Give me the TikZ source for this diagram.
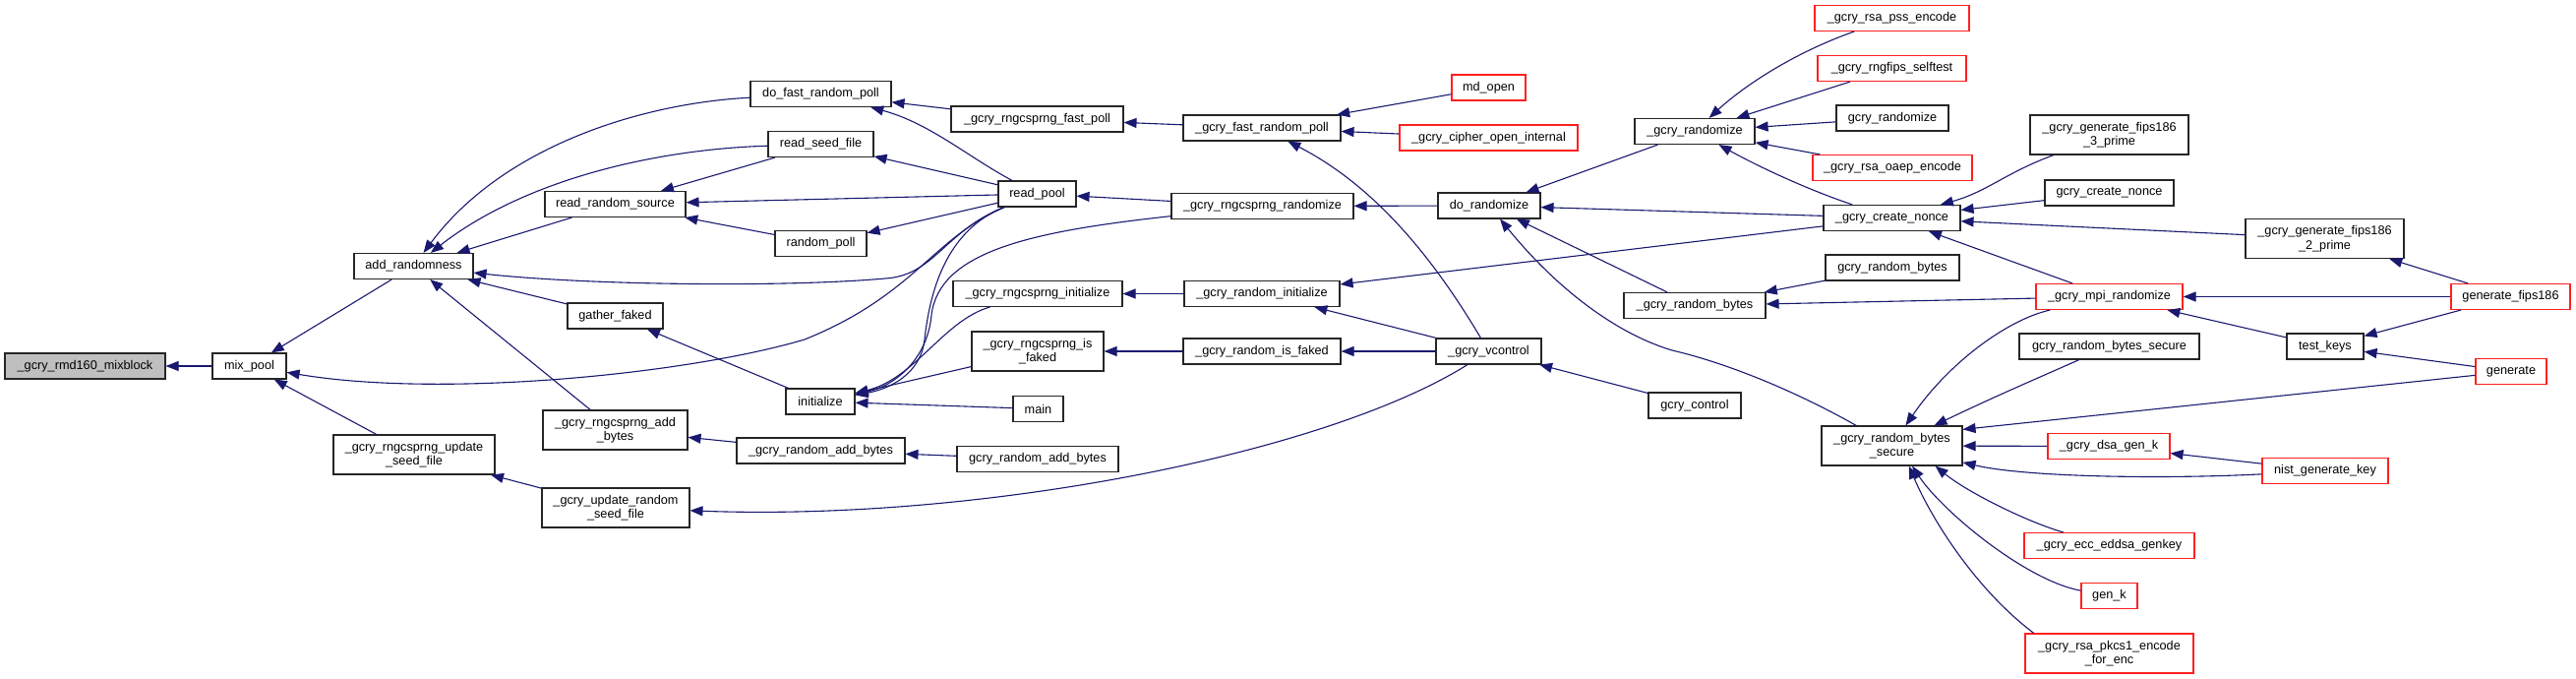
\documentclass[tikz,border=0pt]{standalone}
\usepackage{fontspec}
\setmainfont{Liberation Sans}
\usetikzlibrary{arrows.meta}
\definecolor{callblue}{HTML}{191970}
\definecolor{truncred}{HTML}{FF2020}
\definecolor{rootgray}{HTML}{BFBFBF}

\begin{document}
\begin{tikzpicture}[
      x=1pt, y=-1pt,
      fn/.style={draw=black!85, line width=1.1pt, fill=white, minimum height=26pt, inner sep=0pt, align=center, font=\fontsize{12.7}{14.5}\selectfont},
      fnred/.style={fn, draw=truncred},
      fnroot/.style={fn, fill=rootgray},
      calls/.style={->, draw=callblue, line width=1.1pt},
      >={Triangle[length=13pt,width=10pt]}
    ]
    \useasboundingbox (0,0) rectangle (2619,690);

    \node[fnroot, minimum width=163pt] (mixblock) at (86.5,372) {\_gcry\_rmd160\_mixblock};
    \node[fn, minimum width=75pt] (mixpool) at (253.5,372) {mix\_pool};
    \node[fn, minimum width=121pt] (addrand) at (420.5,270.5) {add\_randomness};
    \node[fn, minimum width=164pt, minimum height=40pt] (upseed) at (421,462) {\_gcry\_rngcsprng\_update\\\_seed\_file};
    \node[fn, minimum width=143pt] (readrs) at (625.5,207.5) {read\_random\_source};
    \node[fn, minimum width=97pt] (gather) at (625.5,321) {gather\_faked};
    \node[fn, minimum width=147pt, minimum height=40pt] (cspadd) at (625.5,437) {\_gcry\_rngcsprng\_add\\\_bytes};
    \node[fn, minimum width=150pt, minimum height=40pt] (updrand) at (626,516) {\_gcry\_update\_random\\\_seed\_file};
    \node[fn, minimum width=143pt] (fastpoll) at (834.5,95.5) {do\_fast\_random\_poll};
    \node[fn, minimum width=107pt] (readseed) at (834.5,146.5) {read\_seed\_file};
    \node[fn, minimum width=93pt] (randpoll) at (834.5,247.5) {random\_poll};
    \node[fn, minimum width=70pt] (init) at (834,408) {initialize};
    \node[fn, minimum width=171pt] (radd) at (834.5,458) {\_gcry\_random\_add\_bytes};
    \node[fn, minimum width=79pt] (readpool) at (1054.5,197) {read\_pool};
    \node[fn, minimum width=175pt] (cspfast) at (1054.5,121) {\_gcry\_rngcsprng\_fast\_poll};
    \node[fn, minimum width=172pt] (cspinit) at (1055,298.5) {\_gcry\_rngcsprng\_initialize};
    \node[fn, minimum width=134pt, minimum height=40pt] (cspfaked) at (1055,357) {\_gcry\_rngcsprng\_is\\\_faked};
    \node[fn, minimum width=51pt] (main) at (1055.5,415.5) {main};
    \node[fn, minimum width=164pt] (gradd) at (1055,466.5) {gcry\_random\_add\_bytes};
    \node[fn, minimum width=160pt] (fastrp) at (1283,130) {\_gcry\_fast\_random\_poll};
    \node[fn, minimum width=185pt] (csprand) at (1283.5,209.5) {\_gcry\_rngcsprng\_randomize};
    \node[fn, minimum width=158pt] (rinit) at (1283,298.5) {\_gcry\_random\_initialize};
    \node[fn, minimum width=160pt] (rfaked) at (1283,357) {\_gcry\_random\_is\_faked};
    \node[fn, minimum width=107pt] (vcontrol) at (1513.5,357) {\_gcry\_vcontrol};
    \node[fnred, minimum width=75pt] (mdopen) at (1513.5,89) {md\_open};
    \node[fnred, minimum width=181pt] (cipheropen) at (1513.5,140) {\_gcry\_cipher\_open\_internal};
    \node[fn, minimum width=104pt] (dorand) at (1514,209) {do\_randomize};
    \node[fn, minimum width=94pt] (gcontrol) at (1723,412) {gcry\_control};
    \node[fn, minimum width=122pt] (grandomize) at (1723,133.5) {\_gcry\_randomize};
    \node[fn, minimum width=144pt] (rbytes) at (1723,310.5) {\_gcry\_random\_bytes};
    \node[fnred, minimum width=157pt] (psse) at (1923.5,18.5) {\_gcry\_rsa\_pss\_encode};
    \node[fnred, minimum width=151pt] (selftest) at (1923.5,69.5) {\_gcry\_rngfips\_selftest};
    \node[fn, minimum width=114pt] (gcryrand) at (1924,120) {gcry\_randomize};
    \node[fnred, minimum width=162pt] (oaep) at (1924,170.5) {\_gcry\_rsa\_oaep\_encode};
    \node[fn, minimum width=139pt] (cnonce) at (1923.5,221.5) {\_gcry\_create\_nonce};
    \node[fn, minimum width=136pt] (grbytes) at (1924,272) {gcry\_random\_bytes};
    \node[fn, minimum width=143pt, minimum height=40pt] (rbsecure) at (1923.5,453) {\_gcry\_random\_bytes\\\_secure};
    \node[fnred, minimum width=149pt] (mpirand) at (2144.5,301.5) {\_gcry\_mpi\_randomize};
    \node[fn, minimum width=183pt] (grbsecure) at (2144.5,352) {gcry\_random\_bytes\_secure};
    \node[fnred, minimum width=124pt] (dsagenk) at (2144,453.5) {\_gcry\_dsa\_gen\_k};
    \node[fnred, minimum width=173pt] (eddsa) at (2144.5,554.5) {\_gcry\_ecc\_eddsa\_genkey};
    \node[fnred, minimum width=57pt] (genk) at (2144.5,605.5) {gen\_k};
    \node[fnred, minimum width=171pt, minimum height=40pt] (pkcs1) at (2144.5,664) {\_gcry\_rsa\_pkcs1\_encode\\\_for\_enc};
    \node[fn, minimum width=161pt, minimum height=40pt] (fips3) at (2144.5,137) {\_gcry\_generate\_fips186\\\_3\_prime};
    \node[fn, minimum width=131pt] (gcnonce) at (2144.5,196) {gcry\_create\_nonce};
    \node[fn, minimum width=161pt, minimum height=40pt] (fips2) at (2363.5,242.5) {\_gcry\_generate\_fips186\\\_2\_prime};
    \node[fn, minimum width=78pt] (testkeys) at (2364,352) {test\_keys};
    \node[fnred, minimum width=128pt] (nistkey) at (2364,478.5) {nist\_generate\_key};
    \node[fnred, minimum width=121pt] (genfips) at (2552.5,301.5) {generate\_fips186};
    \node[fnred, minimum width=72pt] (generate) at (2553,377.5) {generate};

    \draw[calls] (mixpool) -- (mixblock);
    \draw[calls] (addrand) -- (mixpool);
    \draw[calls] (upseed) -- (mixpool);
    \draw[calls] (readpool) .. controls (950,240) and (930,300) .. (818,345) .. controls (700,380) and (450,405) .. (mixpool);
    \draw[calls] (readpool) .. controls (960,235) and (950,280) .. (900,283) .. controls (800,292) and (600,290) .. (addrand);
    \draw[calls] (readpool) .. controls (960,235) and (945,300) .. (940,345) .. controls (936,380) and (905,395) .. (init);
    \draw[calls] (csprand) .. controls (1050,235) and (955,255) .. (947,320) .. controls (943,365) and (910,392) .. (init);
    \draw[calls] (cspinit) .. controls (960,325) and (930,385) .. (init);
    \draw[calls] (cspfaked) -- (init);
    \draw[calls] (main) -- (init);
    \draw[calls] (init) -- (gather);
    \draw[calls] (gather) -- (addrand);
    \draw[calls] (readrs) -- (addrand);
    \draw[calls] (cspadd) -- (addrand);
    \draw[calls] (fastpoll) .. controls (650,105) and (510,150) .. (addrand);
    \draw[calls] (readseed) .. controls (660,152) and (530,185) .. (addrand);
    \draw[calls] (updrand) -- (upseed);
    \draw[calls] (vcontrol) .. controls (1350,460) and (1000,530) .. (updrand);
    \draw[calls] (readpool) -- (readseed);
    \draw[calls] (readpool) -- (readrs);
    \draw[calls] (readpool) -- (randpoll);
    \draw[calls] (readpool) .. controls (985,160) and (945,125) .. (fastpoll);
    \draw[calls] (randpoll) -- (readrs);
    \draw[calls] (readseed) -- (readrs);
    \draw[calls] (cspfast) -- (fastpoll);
    \draw[calls] (fastrp) -- (cspfast);
    \draw[calls] (csprand) -- (readpool);
    \draw[calls] (dorand) -- (csprand);
    \draw[calls] (rinit) -- (cspinit);
    \draw[calls] (rfaked) -- (cspfaked);
    \draw[calls] (radd) -- (cspadd);
    \draw[calls] (gradd) -- (radd);
    \draw[calls] (vcontrol) -- (rfaked);
    \draw[calls] (vcontrol) -- (rinit);
    \draw[calls] (vcontrol) .. controls (1450,250) and (1390,185) .. (fastrp);
    \draw[calls] (gcontrol) -- (vcontrol);
    \draw[calls] (mdopen) -- (fastrp);
    \draw[calls] (cipheropen) -- (fastrp);
    \draw[calls] (grandomize) -- (dorand);
    \draw[calls] (cnonce) -- (dorand);
    \draw[calls] (rbytes) -- (dorand);
    \draw[calls] (rbsecure) .. controls (1830,400) and (1760,370) .. (1700,356) .. controls (1640,338) and (1580,290) .. (dorand);
    \draw[calls] (cnonce) -- (rinit);
    \draw[calls] (psse) .. controls (1820,55) and (1770,90) .. (grandomize);
    \draw[calls] (selftest) -- (grandomize);
    \draw[calls] (gcryrand) -- (grandomize);
    \draw[calls] (oaep) -- (grandomize);
    \draw[calls] (cnonce) .. controls (1830,190) and (1780,165) .. (grandomize);
    \draw[calls] (grbytes) -- (rbytes);
    \draw[calls] (mpirand) -- (rbytes);
    \draw[calls] (fips3) .. controls (2040,175) and (2020,195) .. (cnonce);
    \draw[calls] (gcnonce) -- (cnonce);
    \draw[calls] (fips2) -- (cnonce);
    \draw[calls] (mpirand) -- (cnonce);
    \draw[calls] (genfips) -- (mpirand);
    \draw[calls] (testkeys) -- (mpirand);
    \draw[calls] (genfips) -- (fips2);
    \draw[calls] (genfips) -- (testkeys);
    \draw[calls] (generate) -- (testkeys);
    \draw[calls] (mpirand) .. controls (2040,325) and (1980,370) .. (rbsecure);
    \draw[calls] (grbsecure) .. controls (2070,385) and (2030,402) .. (rbsecure);
    \draw[calls] (generate) -- (rbsecure.13);
    \draw[calls] (dsagenk) -- (rbsecure);
    \draw[calls] (nistkey) .. controls (2200,487) and (2060,485) .. (rbsecure);
    \draw[calls] (nistkey) -- (dsagenk);
    \draw[calls] (eddsa) .. controls (2060,530) and (2000,500) .. (rbsecure.-25);
    \draw[calls] (genk) .. controls (2060,590) and (1975,520) .. (rbsecure.-45);
    \draw[calls] (pkcs1.165) .. controls (2010,600) and (1965,530) .. (rbsecure.-50);
  \end{tikzpicture}
\end{document}
